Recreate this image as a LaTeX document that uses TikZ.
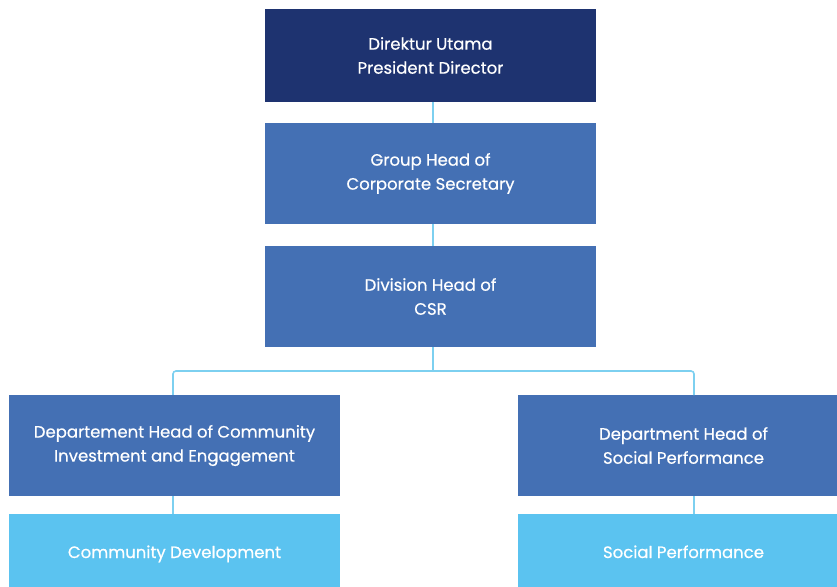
\documentclass[tikz,border=0pt]{standalone}
\usepackage{fontspec}
\setmainfont{Poppins}[FakeBold=0.5]
\definecolor{navy}{RGB}{30,51,112}
\definecolor{midblue}{RGB}{68,112,180}
\definecolor{lightblue}{RGB}{91,195,240}
\definecolor{linkblue}{RGB}{125,208,240}
\begin{document}
\begin{tikzpicture}[x=1pt,y=-1pt,
  box/.style={rectangle,inner sep=0pt,text=white,align=center,font=\fontsize{16.5}{24}\selectfont},
  oneline/.style={text height=14pt,text depth=0pt},
  link/.style={draw=linkblue,line width=1.6pt}]
\useasboundingbox (0,0) rectangle (837,586);
\begin{scope}
\clip (0,0) rectangle (837,586);
\node[box,fill=navy,minimum width=331pt,minimum height=93pt] (pd) at (430.5,55.5) {Direktur Utama\\President Director};
\node[box,fill=midblue,minimum width=331pt,minimum height=101pt] (cs) at (430.5,173.5) {Group Head of\\Corporate Secretary};
\node[box,fill=midblue,minimum width=331pt,minimum height=101pt] (csr) at (430.5,296.5) {Division Head of\\CSR};
\node[box,fill=midblue,minimum width=331pt,minimum height=101pt] (cie) at (174.5,445.5) {Departement Head of Community\\Investment and Engagement};
\node[box,fill=midblue,minimum width=331pt,minimum height=101pt] (sp) at (683.5,445.5) {Department Head of\\Social Performance};
\node[box,oneline,fill=lightblue,minimum width=331pt,minimum height=74pt] (cd) at (174.5,551) {Community Development};
\node[box,oneline,fill=lightblue,minimum width=331pt,minimum height=74pt] (spf) at (683.5,551) {Social Performance};
\end{scope}
\coordinate (rtop) at (694,395);
\coordinate (rbot) at (694,496);
\coordinate (rlow) at (694,514);
\draw[link] (pd.south -| 433,0) -- (cs.north -| 433,0);
\draw[link] (cs.south -| 433,0) -- (csr.north -| 433,0);
\draw[link,rounded corners=3pt] (cie.north -| 173,0) |- (433,371) -| (rtop);
\draw[link] (csr.south -| 433,0) -- (433,371);
\draw[link] (cie.south -| 173,0) -- (cd.north -| 173,0);
\draw[link] (rbot) -- (rlow);
\end{tikzpicture}
\end{document}
